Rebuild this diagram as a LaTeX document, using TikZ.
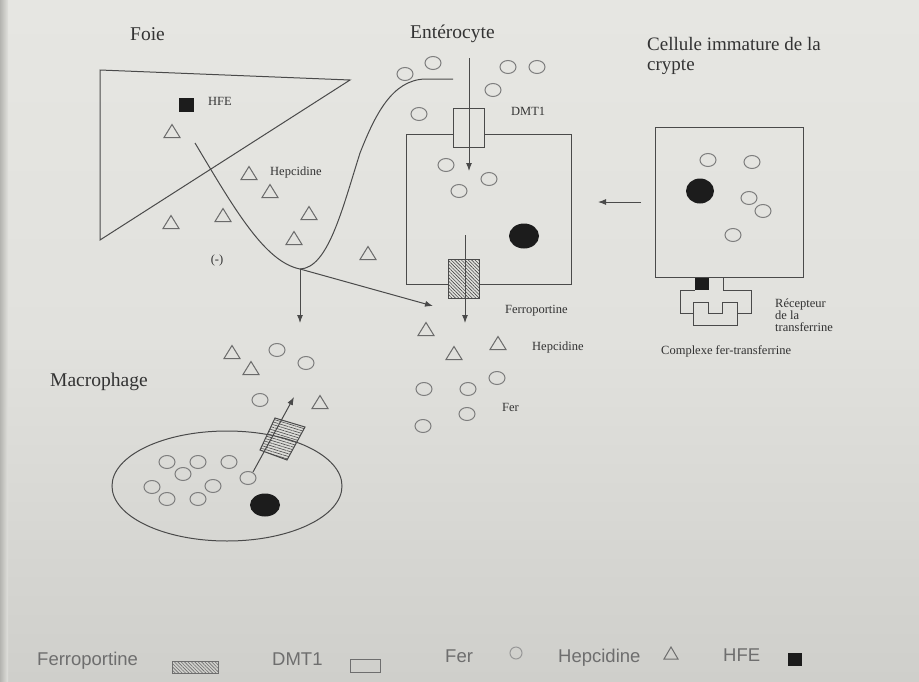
\documentclass[tikz,border=0pt]{standalone}
\usepackage{fontspec}
\setmainfont{Liberation Serif}
\newfontfamily\legfont{Liberation Sans}
\usetikzlibrary{arrows.meta,patterns.meta}
\definecolor{linec}{HTML}{4A4A4A}
\definecolor{ferc}{HTML}{7E7E7E}
\definecolor{hepc}{HTML}{6A6A6A}
\definecolor{txtc}{HTML}{333333}
\definecolor{legc}{HTML}{6E6E6E}
\definecolor{bgtop}{HTML}{E6E6E2}
\definecolor{bgmid}{HTML}{E1E1DD}
\definecolor{bgbot}{HTML}{CFCFCB}
\definecolor{edgec}{HTML}{B4B4B0}
\definecolor{darkc}{HTML}{1C1C1C}
\newcommand\FerC[1]{\draw[fer] (#1) ellipse[x radius=8pt,y radius=6.5pt];}
\newcommand\HepT[1]{\draw[hep,shift={(#1)}] (-8,6.5) -- (8,6.5) -- (0,-6.5) -- cycle;}
\begin{document}
\begin{tikzpicture}[x=1pt,y=-1pt,
  line/.style={draw=linec,line width=1pt},
  arr/.style={line,-{Latex[length=8pt,width=6pt]}},
  fer/.style={draw=ferc,line width=1pt},
  hep/.style={draw=hepc,line width=1pt},
  hatch/.style={line,pattern={Lines[angle=-45,distance=2.4pt,line width=0.6pt]},pattern color=linec},
  title/.style={text=txtc,font=\fontsize{19.5}{22}\selectfont,inner sep=0pt,anchor=base west},
  small/.style={text=txtc,font=\fontsize{12.5}{14}\selectfont,inner sep=0pt,anchor=base west},
  leg/.style={text=legc,font=\legfont\fontsize{18.5}{20}\selectfont,inner sep=0pt,anchor=base west},
]
\useasboundingbox (0,0) rectangle (919,681);
\shade[top color=bgtop,bottom color=bgbot,middle color=bgmid] (0,0) rectangle (919,681);
\shade[left color=edgec,right color=bgmid] (0,0) rectangle (8,681);

% titles
\node[title] (tfoie) at (130,40) {Foie};
\node[title] (tent) at (410,38) {Entérocyte};
\node[title,font=\fontsize{19}{20}\selectfont] (tcell) at (647,50) {Cellule immature de la};
\node[title,font=\fontsize{19}{20}\selectfont] (tcry) at (647,70) {crypte};
\node[title] (tmac) at (50,386) {Macrophage};

% liver
\draw[line] (100,70) -- (350,80) -- (100,240) -- cycle;
\fill[darkc] (179,98) rectangle (194,112);
\node[small] (lhfe) at (208,105) {HFE};
\node[small] (lhep) at (270,175) {Hepcidine};
\node[small,anchor=center] (lmoins) at (217,260) {(-)};
\HepT{172,131}
\HepT{249,173}
\HepT{270,191}
\HepT{309,213}
\HepT{223,215}
\HepT{171,222}
\HepT{294,238}
\HepT{368,253}

% curve
\coordinate (vbot) at (300,269);
\draw[line] (195,143) .. controls (235,210) and (265,262) .. (vbot)
  .. controls (328,268) and (342,210) .. (360,153)
  .. controls (375,115) and (392,80) .. (425,79) -- (453,79);
\coordinate (macin) at (300,323);
\coordinate (entout) at (433,306);
\draw[arr] (vbot) -- (macin);
\draw[arr] (vbot) -- (entout);

% enterocyte
\draw[line] (453,134) -- (406,134) -- (406,284) -- (448,284);
\draw[line] (484,134) -- (571,134) -- (571,284) -- (479,284);
\draw[line] (453,108) rectangle (484,147);
\draw[hatch] (448,259) rectangle (479,298);
\node[small] (ldmt) at (511,115) {DMT1};
\coordinate (dmtin) at (469,58);
\coordinate (dmtout) at (469,171);
\draw[arr] (dmtin) -- (dmtout);
\coordinate (fpin) at (465,235);
\coordinate (fpout) at (465,323);
\draw[arr] (fpin) -- (fpout);
\fill[darkc] (524,236) ellipse[x radius=15pt,y radius=12.5pt];
\FerC{405,74}
\FerC{433,63}
\FerC{508,67}
\FerC{537,67}
\FerC{493,90}
\FerC{419,114}
\FerC{446,165}
\FerC{489,179}
\FerC{459,191}
\node[small] (lfp) at (505,313) {Ferroportine};
\node[small] (lhep2) at (532,350) {Hepcidine};
\node[small] (lfer) at (502,411) {Fer};
\HepT{426,329}
\HepT{454,353}
\HepT{498,343}
\FerC{497,378}
\FerC{424,389}
\FerC{468,389}
\FerC{467,414}
\FerC{423,426}

% crypt cell
\draw[line] (655,127) rectangle (803,277);
\fill[darkc] (700,191) ellipse[x radius=14pt,y radius=12.5pt];
\FerC{708,160}
\FerC{752,162}
\FerC{749,198}
\FerC{763,211}
\FerC{733,235}
\coordinate (cryout) at (641,202);
\coordinate (entin) at (598,202);
\draw[arr] (cryout) -- (entin);
% receptor
\fill[darkc] (695,278) rectangle (709,290);
\draw[line] (723,278) -- (723,290) -- (751,290) -- (751,313) -- (737,313);
\draw[line] (695,290) -- (680,290) -- (680,313) -- (693,313);
\draw[line] (693,302) -- (708,302) -- (708,313) -- (722,313) -- (722,302) -- (737,302) -- (737,325) -- (693,325) -- cycle;
\node[small] (lrec1) at (775,307) {Récepteur};
\node[small] (lrec2) at (775,319) {de la};
\node[small] (lrec3) at (775,331) {transferrine};
\node[small] (lcomp) at (661,354) {Complexe fer-transferrine};

% macrophage
\draw[line] (227,486) ellipse[x radius=115pt,y radius=55pt];
\HepT{232,352}
\HepT{251,368}
\HepT{320,402}
\FerC{277,350}
\FerC{306,363}
\FerC{260,400}
\FerC{167,462}
\FerC{198,462}
\FerC{229,462}
\FerC{183,474}
\FerC{152,487}
\FerC{213,486}
\FerC{167,499}
\FerC{198,499}
\FerC{248,478}
\fill[darkc] (265,505) ellipse[x radius=15pt,y radius=11.5pt];
\draw[line,pattern={Lines[angle=-17,distance=2.6pt,line width=0.6pt]},pattern color=linec]
  (275,418) -- (305,427) -- (287,460) -- (260,450) -- cycle;
\coordinate (macfer) at (253,472);
\coordinate (macout) at (294,397);
\draw[arr] (macfer) -- (macout);

% legend
\node[leg] (gfp) at (37,665) {Ferroportine};
\draw[hatch,draw=legc,pattern color=legc] (172,661) rectangle (218,673);
\node[leg] (gdmt) at (272,665) {DMT1};
\draw[draw=legc,line width=1pt] (350,659) rectangle (380,672);
\node[leg] (gfer) at (445,662) {Fer};
\draw[draw=ferc!80,line width=1pt] (516,653) ellipse[x radius=6pt,y radius=6pt];
\node[leg] (ghep) at (558,662) {Hepcidine};
\draw[draw=legc,line width=1pt] (664,659) -- (678,659) -- (671,647) -- cycle;
\node[leg] (ghfe) at (723,661) {HFE};
\fill[darkc] (788,653) rectangle (802,666);
\end{tikzpicture}
\end{document}
